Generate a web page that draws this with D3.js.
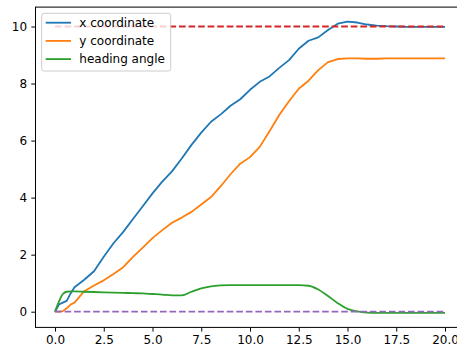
<!DOCTYPE html>
<html>
<head>
<meta charset="utf-8">
<script src="https://cdn.jsdelivr.net/npm/d3@7"></script>
<style>
  body { margin: 0; background: #fff; }
  svg { display: block; font-family: "DejaVu Sans", sans-serif; }
</style>
</head>
<body>
<svg id="chart" width="457" height="351"></svg>
<script>

// time samples (s)
const time = [0, 0.2, 0.4, 0.6, 0.8, 1.0, 1.5, 2.0, 2.5, 3.0, 3.5, 4.0, 4.5, 5.0, 5.5, 6.0, 6.5, 7.0, 7.5, 8.0,
  8.5, 9.0, 9.5, 10.0, 10.5, 11.0, 11.5, 12.0, 12.5, 13.0, 13.5, 14.0, 14.5, 15.0, 15.5, 16.0, 16.5, 17.0, 17.5, 18.0,
  18.5, 19.0, 19.5, 20.0];

const xCoord = [0, 0.25, 0.32, 0.38, 0.64, 0.86, 1.12, 1.42, 1.93, 2.40, 2.80, 3.25, 3.70, 4.15, 4.56, 4.92, 5.37, 5.85, 6.28, 6.66,
  6.92, 7.22, 7.45, 7.78, 8.06, 8.25, 8.55, 8.82, 9.22, 9.50, 9.62, 9.88, 10.10, 10.17, 10.14, 10.07, 10.03, 10.01, 10.00, 9.99,
  9.99, 9.99, 9.99, 9.99];

const yCoord = [0, 0, 0.02, 0.12, 0.25, 0.32, 0.72, 0.92, 1.10, 1.32, 1.56, 1.92, 2.25, 2.58, 2.86, 3.12, 3.30, 3.50, 3.76, 4.02,
  4.40, 4.82, 5.19, 5.42, 5.78, 6.33, 6.90, 7.38, 7.82, 8.10, 8.47, 8.75, 8.86, 8.88, 8.88, 8.87, 8.87, 8.88, 8.88, 8.88,
  8.88, 8.88, 8.88, 8.88];

const heading = [0, 0.35, 0.62, 0.70, 0.71, 0.71, 0.70, 0.69, 0.68, 0.67, 0.66, 0.65, 0.64, 0.62, 0.60, 0.57, 0.57, 0.70, 0.82, 0.89,
  0.92, 0.93, 0.93, 0.93, 0.93, 0.93, 0.93, 0.93, 0.93, 0.91, 0.78, 0.55, 0.30, 0.10, 0.01, -0.03, -0.04, -0.04, -0.04, -0.04,
  -0.04, -0.04, -0.04, -0.04];

const seriesNames = ['x coordinate', 'y coordinate', 'heading angle'];
const targetX = 10;
const targetAngle = 0;
const xTicks = [0, 2.5, 5, 7.5, 10, 12.5, 15, 17.5, 20];
const yTicks = [0, 2, 4, 6, 8, 10];

const colors = {
  blue: '#1f77b4',
  orange: '#ff7f0e',
  green: '#2ca02c',
  red: '#d62728',
  purple: '#9467bd'
};

const lw = 1.8;
const fontSize = '12px';

const svg = d3.select('#chart');
const margin = {left: 35.5, top: 7.1, right: 464.5, bottom: 327.4};

// matplotlib-like 5% padding on the data range
const pad = (ext) => { const d = (ext[1] - ext[0]) * 0.05; return [ext[0] - d, ext[1] + d]; };
const allY = xCoord.concat(yCoord, heading);

const x = d3.scaleLinear()
  .domain( pad(d3.extent(time)) )
  .range([margin.left, margin.right]);

const y = d3.scaleLinear()
  .domain( pad(d3.extent(allY)) )
  .range([margin.bottom, margin.top]);

const series = [
  {name: seriesNames[0], values: xCoord, color: colors.blue, curve: d3.curveLinear},
  {name: seriesNames[1], values: yCoord, color: colors.orange, curve: d3.curveLinear},
  {name: seriesNames[2], values: heading, color: colors.green, curve: d3.curveMonotoneX}
];

const plot = svg.append('g');

series.forEach(s => {
  const line = d3.line()
    .x((d, i) => x(time[i]))
    .y(d => y(d))
    .curve(s.curve);
  plot.append('path')
    .attr('d', line(s.values))
    .style('fill', 'none')
    .style('stroke', s.color)
    .style('stroke-width', lw)
    .style('stroke-linejoin', 'round');
});

// reference lines
[{v: targetX, color: colors.red}, {v: targetAngle, color: colors.purple}].forEach(r => {
  plot.append('line')
    .attr('x1', x(time[0]))
    .attr('x2', x(time[time.length - 1]))
    .attr('y1', y(r.v))
    .attr('y2', y(r.v))
    .style('stroke', r.color)
    .style('stroke-width', lw)
    .style('stroke-dasharray', `${3.7 * lw},${1.6 * lw}`);
});

// axes
const xAxis = svg.append('g')
  .attr('transform', `translate(0,${margin.bottom})`)
  .call(d3.axisBottom(x).tickValues(xTicks).tickFormat(d3.format('.1f')).tickSize(4.2).tickPadding(4.2));

const yAxis = svg.append('g')
  .attr('transform', `translate(${margin.left},0)`)
  .call(d3.axisLeft(y).tickValues(yTicks).tickFormat(d3.format('d')).tickSize(4.2).tickPadding(4.2));

[xAxis, yAxis].forEach(a => {
  a.select('.domain').remove();
  a.selectAll('line').style('stroke', '#000').style('stroke-width', 1);
  a.selectAll('text').style('font-size', fontSize).style('fill', '#000').attr('font-family', 'DejaVu Sans');
});

// frame
svg.append('rect')
  .attr('x', margin.left)
  .attr('y', margin.top)
  .attr('width', margin.right - margin.left)
  .attr('height', margin.bottom - margin.top)
  .style('fill', 'none')
  .style('stroke', '#000')
  .style('stroke-width', 1);

// legend
const legend = svg.append('g').attr('transform', 'translate(41.7,13.3)');

legend.append('rect')
  .attr('width', 129)
  .attr('height', 57.7)
  .attr('rx', 2.4)
  .style('fill', '#fff')
  .style('fill-opacity', 0.8)
  .style('stroke', '#cccccc')
  .style('stroke-width', 1);

const items = legend.selectAll('.item')
  .data(series)
  .enter()
  .append('g')
  .attr('transform', (d, i) => `translate(0,${9.4 + i * 18.2})`);

items.append('line')
  .attr('x1', 4)
  .attr('x2', 29.3)
  .style('stroke', d => d.color)
  .style('stroke-width', lw);

items.append('text')
  .attr('x', 37.6)
  .attr('dy', '0.35em')
  .text(d => d.name)
  .style('font-size', fontSize)
  .style('fill', '#000');

</script>
</body>
</html>
